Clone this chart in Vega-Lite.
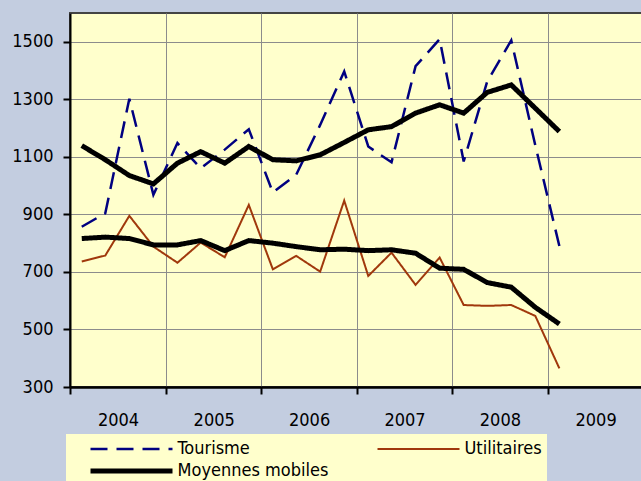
{
  "$schema": "https://vega.github.io/schema/vega-lite/v6.json",
  "width": 573,
  "height": 374,
  "autosize": {"type": "none"},
  "padding": {"left": 70, "top": 13, "right": 0, "bottom": 94},
  "background": "#c3cde0",
  "config": {
    "view": {"fill": "#ffffcc", "stroke": "#444444", "strokeWidth": 2},
    "font": "DejaVu Sans Condensed",
    "axis": {
      "labelFont": "DejaVu Sans Condensed",
      "labelFontSize": 18,
      "labelColor": "#000000",
      "tickColor": "#000000",
      "tickWidth": 2,
      "tickSize": 7,
      "domainColor": "#000000",
      "grid": true,
      "gridColor": "#8c8c8c",
      "gridWidth": 1,
      "labelFlush": false,
      "labelOverlap": false
    }
  },
  "encoding": {
    "x": {
      "field": "date",
      "type": "temporal",
      "scale": {
        "type": "utc",
        "domain": [
          {"year": 2004, "month": 1, "date": 1, "utc": true},
          {"year": 2010, "month": 1, "date": 1, "utc": true}
        ]
      },
      "axis": {
        "title": null,
        "values": [
          {"year": 2004, "month": 1, "date": 1, "utc": true},
          {"year": 2005, "month": 1, "date": 1, "utc": true},
          {"year": 2006, "month": 1, "date": 1, "utc": true},
          {"year": 2007, "month": 1, "date": 1, "utc": true},
          {"year": 2008, "month": 1, "date": 1, "utc": true},
          {"year": 2009, "month": 1, "date": 1, "utc": true}
        ],
        "format": "%Y",
        "labelOffset": 48,
        "labelPadding": 17,
        "domainWidth": 2.5
      }
    },
    "y": {
      "field": "v",
      "type": "quantitative",
      "scale": {"domain": [300, 1600], "nice": false, "zero": false},
      "axis": {
        "title": null,
        "values": [300, 500, 700, 900, 1100, 1300, 1500],
        "format": "d",
        "labelPadding": 10,
        "domainWidth": 2
      }
    },
    "detail": {"field": "ligne", "type": "nominal"},
    "color": {
      "field": "serie",
      "type": "nominal",
      "scale": {
        "domain": ["Tourisme", "Utilitaires", "Moyennes mobiles"],
        "range": ["#000080", "#a0380c", "#000000"]
      },
      "legend": {
        "title": null,
        "orient": "none",
        "direction": "horizontal",
        "legendX": -4,
        "legendY": 421,
        "columns": 2,
        "gridAlign": "all",
        "columnPadding": 29,
        "rowPadding": 2,
        "padding": 5,
        "fillColor": "#ffffcc",
        "labelFontSize": 18,
        "labelColor": "#000000",
        "labelFont": "DejaVu Sans Condensed",
        "labelLimit": 400,
        "symbolType": "M-1,0H15.4",
        "symbolSize": 100,
        "symbolOffset": 15.5,
        "labelOffset": 73,
        "clipHeight": 20
      }
    },
    "strokeDash": {
      "field": "serie",
      "type": "nominal",
      "scale": {
        "domain": ["Tourisme", "Utilitaires", "Moyennes mobiles"],
        "range": [[17, 9], [1, 0], [1, 0]]
      }
    },
    "strokeWidth": {
      "field": "serie",
      "type": "nominal",
      "scale": {
        "type": "ordinal",
        "domain": ["Tourisme", "Utilitaires", "Moyennes mobiles"],
        "range": [2.5, 2, 5]
      }
    }
  },
  "layer": [
    {
      "data": {
        "values": [
          {"date": "2004-02-15", "serie": "Tourisme", "ligne": "Tourisme", "v": 857},
          {"date": "2004-05-15", "serie": "Tourisme", "ligne": "Tourisme", "v": 904},
          {"date": "2004-08-15", "serie": "Tourisme", "ligne": "Tourisme", "v": 1302},
          {"date": "2004-11-15", "serie": "Tourisme", "ligne": "Tourisme", "v": 968},
          {"date": "2005-02-15", "serie": "Tourisme", "ligne": "Tourisme", "v": 1148},
          {"date": "2005-05-15", "serie": "Tourisme", "ligne": "Tourisme", "v": 1060},
          {"date": "2005-08-15", "serie": "Tourisme", "ligne": "Tourisme", "v": 1125},
          {"date": "2005-11-15", "serie": "Tourisme", "ligne": "Tourisme", "v": 1196},
          {"date": "2006-02-15", "serie": "Tourisme", "ligne": "Tourisme", "v": 976},
          {"date": "2006-05-15", "serie": "Tourisme", "ligne": "Tourisme", "v": 1037},
          {"date": "2006-08-15", "serie": "Tourisme", "ligne": "Tourisme", "v": 1211},
          {"date": "2006-11-15", "serie": "Tourisme", "ligne": "Tourisme", "v": 1397},
          {"date": "2007-02-15", "serie": "Tourisme", "ligne": "Tourisme", "v": 1136},
          {"date": "2007-05-15", "serie": "Tourisme", "ligne": "Tourisme", "v": 1081},
          {"date": "2007-08-15", "serie": "Tourisme", "ligne": "Tourisme", "v": 1415},
          {"date": "2007-11-15", "serie": "Tourisme", "ligne": "Tourisme", "v": 1509},
          {"date": "2008-02-15", "serie": "Tourisme", "ligne": "Tourisme", "v": 1084},
          {"date": "2008-05-15", "serie": "Tourisme", "ligne": "Tourisme", "v": 1362},
          {"date": "2008-08-15", "serie": "Tourisme", "ligne": "Tourisme", "v": 1505},
          {"date": "2008-11-15", "serie": "Tourisme", "ligne": "Tourisme", "v": 1140},
          {"date": "2009-02-15", "serie": "Tourisme", "ligne": "Tourisme", "v": 790},
          {"date": "2004-02-15", "serie": "Utilitaires", "ligne": "Utilitaires", "v": 736},
          {"date": "2004-05-15", "serie": "Utilitaires", "ligne": "Utilitaires", "v": 757},
          {"date": "2004-08-15", "serie": "Utilitaires", "ligne": "Utilitaires", "v": 895},
          {"date": "2004-11-15", "serie": "Utilitaires", "ligne": "Utilitaires", "v": 788},
          {"date": "2005-02-15", "serie": "Utilitaires", "ligne": "Utilitaires", "v": 732},
          {"date": "2005-05-15", "serie": "Utilitaires", "ligne": "Utilitaires", "v": 802},
          {"date": "2005-08-15", "serie": "Utilitaires", "ligne": "Utilitaires", "v": 751},
          {"date": "2005-11-15", "serie": "Utilitaires", "ligne": "Utilitaires", "v": 933},
          {"date": "2006-02-15", "serie": "Utilitaires", "ligne": "Utilitaires", "v": 709},
          {"date": "2006-05-15", "serie": "Utilitaires", "ligne": "Utilitaires", "v": 756},
          {"date": "2006-08-15", "serie": "Utilitaires", "ligne": "Utilitaires", "v": 701},
          {"date": "2006-11-15", "serie": "Utilitaires", "ligne": "Utilitaires", "v": 948},
          {"date": "2007-02-15", "serie": "Utilitaires", "ligne": "Utilitaires", "v": 686},
          {"date": "2007-05-15", "serie": "Utilitaires", "ligne": "Utilitaires", "v": 767},
          {"date": "2007-08-15", "serie": "Utilitaires", "ligne": "Utilitaires", "v": 655},
          {"date": "2007-11-15", "serie": "Utilitaires", "ligne": "Utilitaires", "v": 750},
          {"date": "2008-02-15", "serie": "Utilitaires", "ligne": "Utilitaires", "v": 585},
          {"date": "2008-05-15", "serie": "Utilitaires", "ligne": "Utilitaires", "v": 582},
          {"date": "2008-08-15", "serie": "Utilitaires", "ligne": "Utilitaires", "v": 585},
          {"date": "2008-11-15", "serie": "Utilitaires", "ligne": "Utilitaires", "v": 547},
          {"date": "2009-02-15", "serie": "Utilitaires", "ligne": "Utilitaires", "v": 365}
        ]
      },
      "mark": {"type": "line"}
    },
    {
      "data": {
        "values": [
          {"date": "2004-02-15", "serie": "Moyennes mobiles", "ligne": "MM Tourisme", "v": 1139},
          {"date": "2004-05-15", "serie": "Moyennes mobiles", "ligne": "MM Tourisme", "v": 1090},
          {"date": "2004-08-15", "serie": "Moyennes mobiles", "ligne": "MM Tourisme", "v": 1035},
          {"date": "2004-11-15", "serie": "Moyennes mobiles", "ligne": "MM Tourisme", "v": 1006},
          {"date": "2005-02-15", "serie": "Moyennes mobiles", "ligne": "MM Tourisme", "v": 1078},
          {"date": "2005-05-15", "serie": "Moyennes mobiles", "ligne": "MM Tourisme", "v": 1118},
          {"date": "2005-08-15", "serie": "Moyennes mobiles", "ligne": "MM Tourisme", "v": 1078},
          {"date": "2005-11-15", "serie": "Moyennes mobiles", "ligne": "MM Tourisme", "v": 1136},
          {"date": "2006-02-15", "serie": "Moyennes mobiles", "ligne": "MM Tourisme", "v": 1090},
          {"date": "2006-05-15", "serie": "Moyennes mobiles", "ligne": "MM Tourisme", "v": 1086},
          {"date": "2006-08-15", "serie": "Moyennes mobiles", "ligne": "MM Tourisme", "v": 1107},
          {"date": "2006-11-15", "serie": "Moyennes mobiles", "ligne": "MM Tourisme", "v": 1150},
          {"date": "2007-02-15", "serie": "Moyennes mobiles", "ligne": "MM Tourisme", "v": 1194},
          {"date": "2007-05-15", "serie": "Moyennes mobiles", "ligne": "MM Tourisme", "v": 1205},
          {"date": "2007-08-15", "serie": "Moyennes mobiles", "ligne": "MM Tourisme", "v": 1252},
          {"date": "2007-11-15", "serie": "Moyennes mobiles", "ligne": "MM Tourisme", "v": 1281},
          {"date": "2008-02-15", "serie": "Moyennes mobiles", "ligne": "MM Tourisme", "v": 1252},
          {"date": "2008-05-15", "serie": "Moyennes mobiles", "ligne": "MM Tourisme", "v": 1324},
          {"date": "2008-08-15", "serie": "Moyennes mobiles", "ligne": "MM Tourisme", "v": 1350},
          {"date": "2008-11-15", "serie": "Moyennes mobiles", "ligne": "MM Tourisme", "v": 1269},
          {"date": "2009-02-15", "serie": "Moyennes mobiles", "ligne": "MM Tourisme", "v": 1188},
          {"date": "2004-02-15", "serie": "Moyennes mobiles", "ligne": "MM Utilitaires", "v": 816},
          {"date": "2004-05-15", "serie": "Moyennes mobiles", "ligne": "MM Utilitaires", "v": 821},
          {"date": "2004-08-15", "serie": "Moyennes mobiles", "ligne": "MM Utilitaires", "v": 816},
          {"date": "2004-11-15", "serie": "Moyennes mobiles", "ligne": "MM Utilitaires", "v": 794},
          {"date": "2005-02-15", "serie": "Moyennes mobiles", "ligne": "MM Utilitaires", "v": 794},
          {"date": "2005-05-15", "serie": "Moyennes mobiles", "ligne": "MM Utilitaires", "v": 809},
          {"date": "2005-08-15", "serie": "Moyennes mobiles", "ligne": "MM Utilitaires", "v": 774},
          {"date": "2005-11-15", "serie": "Moyennes mobiles", "ligne": "MM Utilitaires", "v": 809},
          {"date": "2006-02-15", "serie": "Moyennes mobiles", "ligne": "MM Utilitaires", "v": 800},
          {"date": "2006-05-15", "serie": "Moyennes mobiles", "ligne": "MM Utilitaires", "v": 788},
          {"date": "2006-08-15", "serie": "Moyennes mobiles", "ligne": "MM Utilitaires", "v": 777},
          {"date": "2006-11-15", "serie": "Moyennes mobiles", "ligne": "MM Utilitaires", "v": 779},
          {"date": "2007-02-15", "serie": "Moyennes mobiles", "ligne": "MM Utilitaires", "v": 774},
          {"date": "2007-05-15", "serie": "Moyennes mobiles", "ligne": "MM Utilitaires", "v": 777},
          {"date": "2007-08-15", "serie": "Moyennes mobiles", "ligne": "MM Utilitaires", "v": 765},
          {"date": "2007-11-15", "serie": "Moyennes mobiles", "ligne": "MM Utilitaires", "v": 713},
          {"date": "2008-02-15", "serie": "Moyennes mobiles", "ligne": "MM Utilitaires", "v": 709},
          {"date": "2008-05-15", "serie": "Moyennes mobiles", "ligne": "MM Utilitaires", "v": 663},
          {"date": "2008-08-15", "serie": "Moyennes mobiles", "ligne": "MM Utilitaires", "v": 647},
          {"date": "2008-11-15", "serie": "Moyennes mobiles", "ligne": "MM Utilitaires", "v": 577},
          {"date": "2009-02-15", "serie": "Moyennes mobiles", "ligne": "MM Utilitaires", "v": 519}
        ]
      },
      "mark": {"type": "line"}
    }
  ]
}
